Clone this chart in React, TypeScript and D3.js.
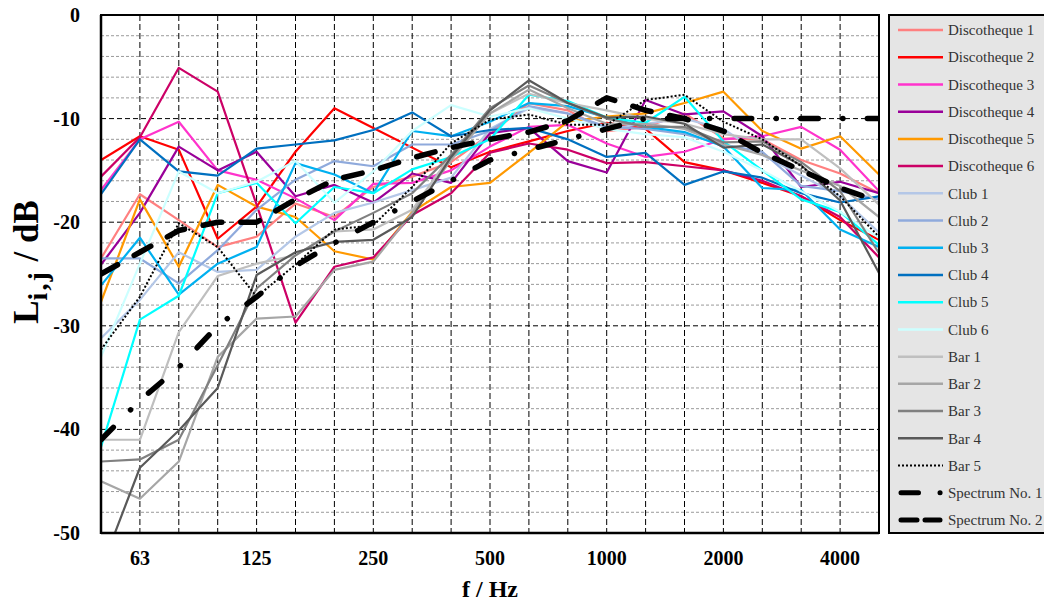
import React from "react";
import * as d3 from "d3";

const FREQS = ["50","63","80","100","125","160","200","250","315","400","500","630","800","1000","1250","1600","2000","2500","3150","4000","5000"];
const TICK_LABELS = ["63","125","250","500","1000","2000","4000"];
const Y_TICKS = [0, -10, -20, -30, -40, -50];

const DISCO1 = [-23.5,-17.3,-19.8,-22.4,-21.4,-18.2,-19.5,-16.6,-15.6,-14.2,-11.5,-8.5,-9.2,-11.2,-10.8,-9.5,-11.9,-12.0,-14.0,-15.3,-17.2];
const DISCO2 = [-14.0,-11.7,-13.0,-21.6,-18.5,-13.2,-9.0,-10.9,-12.8,-14.7,-13.2,-12.2,-11.2,-10.4,-11.0,-14.2,-15.0,-16.2,-17.5,-19.8,-21.7];
const DISCO3 = [-16.9,-12.0,-10.3,-15.0,-15.9,-17.7,-19.8,-16.3,-16.2,-15.0,-12.7,-10.8,-10.6,-12.4,-13.7,-13.2,-12.0,-11.7,-10.8,-13.0,-17.0];
const DISCO4 = [-24.1,-19.1,-12.7,-15.0,-13.2,-17.5,-16.4,-18.1,-15.3,-16.2,-11.4,-10.9,-14.1,-15.2,-8.2,-9.6,-9.3,-11.7,-16.6,-16.1,-17.2];
const DISCO5 = [-27.7,-17.8,-24.3,-16.4,-18.5,-19.5,-22.8,-23.6,-19.0,-16.6,-16.2,-13.3,-10.3,-9.8,-9.5,-8.5,-7.4,-11.2,-12.9,-11.7,-15.4];
const DISCO6 = [-15.6,-11.8,-5.1,-7.4,-18.3,-29.7,-24.3,-23.4,-19.3,-17.2,-13.3,-12.4,-13.0,-14.3,-14.2,-14.6,-15.0,-16.0,-17.5,-19.5,-23.4];
const CLUB1 = [-31.2,-27.5,-22.9,-24.8,-24.6,-21.4,-19.1,-18.1,-16.9,-15.7,-11.0,-9.0,-9.5,-11.0,-10.5,-10.0,-11.0,-13.5,-15.5,-17.5,-21.0];
const CLUB2 = [-23.5,-23.5,-25.9,-22.7,-18.8,-15.9,-14.1,-14.6,-12.5,-12.5,-11.2,-8.8,-9.5,-10.8,-11.0,-11.5,-12.5,-13.2,-16.5,-17.0,-17.8];
const CLUB3 = [-26.1,-21.5,-27.0,-24.0,-22.4,-14.3,-15.4,-17.2,-11.2,-11.7,-10.3,-8.5,-8.8,-9.9,-10.8,-11.3,-12.7,-16.7,-16.9,-20.7,-22.4];
const CLUB4 = [-17.3,-12.0,-15.1,-15.5,-12.9,-12.5,-12.1,-11.1,-9.4,-11.7,-11.1,-10.9,-12.0,-13.7,-13.3,-16.4,-15.1,-15.7,-17.2,-18.1,-17.5];
const CLUB5 = [-41.7,-29.4,-27.1,-17.2,-16.2,-20.1,-16.6,-17.2,-14.9,-13.7,-12.0,-7.7,-8.3,-9.9,-10.4,-7.9,-12.2,-15.0,-17.8,-19.0,-22.2];
const CLUB6 = [-33.0,-24.0,-15.1,-17.2,-16.1,-14.1,-18.1,-15.1,-11.2,-8.7,-9.8,-9.0,-10.0,-11.0,-11.5,-11.8,-13.2,-15.0,-17.0,-19.0,-21.5];
const BAR1 = [-41.0,-41.0,-30.6,-25.2,-24.0,-23.2,-20.9,-20.7,-18.8,-13.5,-9.5,-7.6,-8.5,-9.2,-10.0,-10.5,-11.5,-12.0,-12.0,-14.8,-18.3];
const BAR2 = [-45.0,-46.7,-43.1,-33.0,-29.3,-29.1,-24.6,-23.8,-19.1,-14.0,-9.5,-7.2,-9.0,-10.5,-10.5,-11.0,-12.5,-13.5,-15.0,-16.5,-19.5];
const BAR3 = [-43.1,-42.9,-41.0,-33.8,-26.4,-23.2,-20.9,-19.1,-17.2,-13.5,-9.0,-6.8,-8.5,-10.0,-10.8,-10.8,-12.3,-12.2,-14.2,-17.0,-23.0];
const BAR4 = [-53.5,-43.7,-40.1,-36.0,-25.1,-22.9,-21.9,-21.7,-19.5,-13.7,-9.2,-6.3,-8.5,-9.9,-9.8,-10.5,-12.8,-12.5,-14.5,-17.9,-24.9];
const BAR5 = [-32.3,-27.2,-20.1,-22.4,-27.2,-24.1,-20.7,-20.3,-16.6,-12.4,-10.1,-9.6,-10.6,-10.6,-8.2,-7.7,-10.3,-12.0,-14.6,-17.5,-21.4];
const SPECTRUM1 = [-41,-37.2,-34,-30,-27.2,-24.2,-22,-20,-18,-16,-14,-13,-12,-11,-10,-10,-10,-10,-10,-10,-10];
const SPECTRUM2 = [-25,-22.9,-20.8,-20,-20,-17.8,-15.9,-15,-13.8,-12.8,-12,-11.3,-10.2,-8,-9.2,-10,-11.2,-13.3,-15,-16.7,-18];

const SERIES = [
  { name: "Discotheque 1", values: DISCO1, color: "#ff8080" },
  { name: "Discotheque 2", values: DISCO2, color: "#ff0000" },
  { name: "Discotheque 3", values: DISCO3, color: "#ff33cc" },
  { name: "Discotheque 4", values: DISCO4, color: "#990099" },
  { name: "Discotheque 5", values: DISCO5, color: "#ff9900" },
  { name: "Discotheque 6", values: DISCO6, color: "#cc0066" },
  { name: "Club 1", values: CLUB1, color: "#b4c7e7" },
  { name: "Club 2", values: CLUB2, color: "#8faadc" },
  { name: "Club 3", values: CLUB3, color: "#00b0f0" },
  { name: "Club 4", values: CLUB4, color: "#0070c0" },
  { name: "Club 5", values: CLUB5, color: "#00ffff" },
  { name: "Club 6", values: CLUB6, color: "#ccffff" },
  { name: "Bar 1", values: BAR1, color: "#bfbfbf" },
  { name: "Bar 2", values: BAR2, color: "#a6a6a6" },
  { name: "Bar 3", values: BAR3, color: "#808080" },
  { name: "Bar 4", values: BAR4, color: "#595959" },
  { name: "Bar 5", values: BAR5, color: "#000000", dash: "2 2", width: 2 },
  { name: "Spectrum No. 1", values: SPECTRUM1, color: "#000000", dash: "17.5 24.5 0.1 24.5", width: 5.5, cap: "round", legendDash: "17.5 21.5 0.1 10", legendWidth: 5, lx1: 901, lx2: 942 },
  { name: "Spectrum No. 2", values: SPECTRUM2, color: "#000000", dash: "19 19", width: 5.5, cap: "round", legendDash: "16 8", legendWidth: 5, lx1: 901, lx2: 940 },
];

const W = 1044, H = 601;
const LEFT = 101, RIGHT = 879, TOP = 15, BOTTOM = 533;
const FONT = "'Liberation Serif', 'Times New Roman', serif";

export default function App() {
  const x = d3.scalePoint<string>().domain(FREQS).range([LEFT, RIGHT]).padding(0);
  const y = d3.scaleLinear().domain([-50, 0]).range([BOTTOM, TOP]);
  const line = d3.line<number>().x((_, i) => x(FREQS[i]) as number).y((d) => y(d));

  const minor = d3.range(-48, 0, 2).filter((v) => v % 10 !== 0);
  const major = [-40, -30, -20, -10];

  return (
    <svg width={W} height={H} style={{ position: "absolute", left: 0, top: 0, display: "block" }} fontFamily={FONT}>
      <rect x={0} y={0} width={W} height={H} fill="#ffffff" />
      <defs>
        <clipPath id="plotClip">
          <rect x={LEFT} y={TOP} width={RIGHT - LEFT} height={BOTTOM - TOP} />
        </clipPath>
      </defs>
      {minor.map((v) => (
        <line key={"mn" + v} x1={LEFT} x2={RIGHT} y1={y(v)} y2={y(v)} stroke="#9a9a9a" strokeWidth={1} strokeDasharray="3 2" />
      ))}
      {major.map((v) => (
        <line key={"mj" + v} x1={LEFT} x2={RIGHT} y1={y(v)} y2={y(v)} stroke="#000" strokeWidth={1} strokeDasharray="5 3" />
      ))}
      {FREQS.slice(1, -1).map((f) => (
        <line key={"v" + f} x1={x(f)} x2={x(f)} y1={TOP} y2={BOTTOM} stroke="#000" strokeWidth={1} strokeDasharray="6 3" />
      ))}
      <g clipPath="url(#plotClip)">
        {SERIES.map((s) => (
          <path
            key={s.name}
            d={line(s.values) as string}
            fill="none"
            stroke={s.color}
            strokeWidth={s.width ?? 2.2}
            strokeDasharray={s.dash}
            strokeLinecap={(s.cap as any) ?? "butt"}
            strokeLinejoin="round"
          />
        ))}
      </g>
      <rect x={LEFT} y={TOP} width={RIGHT - LEFT} height={BOTTOM - TOP} fill="none" stroke="#000" strokeWidth={2} />
      <line x1={LEFT} x2={LEFT} y1={TOP} y2={BOTTOM + 1} stroke="#000" strokeWidth={2.5} />
      <line x1={LEFT} x2={RIGHT} y1={BOTTOM} y2={BOTTOM} stroke="#000" strokeWidth={2.5} />
      {Y_TICKS.map((v) => (
        <text key={"yt" + v} x={80} y={y(v)} dy="0.35em" textAnchor="end" fontSize={20} fontWeight="bold" fill="#000">
          {String(v)}
        </text>
      ))}
      {TICK_LABELS.map((f) => (
        <text key={"xt" + f} x={x(f)} y={565} textAnchor="middle" fontSize={20} fontWeight="bold" fill="#000">
          {f}
        </text>
      ))}
      <text x={490} y={597} textAnchor="middle" fontSize={24} fontWeight="bold" fill="#000">f / Hz</text>
      <text transform="translate(38, 262) rotate(-90)" textAnchor="middle" fontSize={35} fontWeight="bold" fill="#000">
        L<tspan fontSize={28} dy={9} letterSpacing={2}>i,j</tspan><tspan dy={-9}> / dB</tspan>
      </text>
      <rect x={889} y={15} width={170} height={518} fill="#e5e5e5" stroke="#000" strokeWidth={2} />
      {SERIES.map((s, i) => {
        const ly = 30 + i * 27.22;
        return (
          <g key={"lg" + s.name}>
            <line
              x1={s.lx1 ?? 898}
              x2={s.lx2 ?? 943}
              y1={ly}
              y2={ly}
              stroke={s.color}
              strokeWidth={s.legendWidth ?? s.width ?? 2.5}
              strokeDasharray={s.legendDash ?? s.dash}
              strokeLinecap={(s.cap as any) ?? "butt"}
            />
            <text x={948} y={ly} dy="0.35em" fontSize={15} fill="#333">
              {s.name}
            </text>
          </g>
        );
      })}
    </svg>
  );
}
